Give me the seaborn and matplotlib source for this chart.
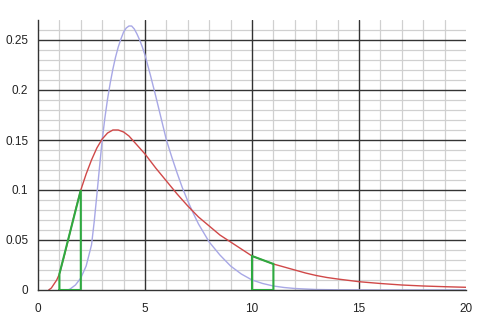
import matplotlib
matplotlib.use("Agg")
import matplotlib.pyplot as plt
import seaborn as sns
import pandas as pd

# Red curve
red_x = [0.5, 0.625, 0.75, 0.875, 1.0, 1.25, 1.5, 1.75, 2.0, 2.25, 2.5, 2.75, 3.0, 3.25, 3.5,
         3.75, 4.0, 4.25, 4.5, 4.75, 5.0, 5.5, 6.0, 6.5, 7.0, 7.5, 8.0, 8.5, 9.0, 9.5, 10.0,
         10.5, 11.0, 11.5, 12.0, 12.5, 13.0, 13.5, 14.0, 15.0, 16.0, 17.0, 18.0, 19.0, 20.0]
red_y = [0.0, 0.002, 0.006, 0.010, 0.016, 0.036, 0.058, 0.080, 0.100, 0.116, 0.130, 0.142,
         0.151, 0.157, 0.160, 0.160, 0.158, 0.154, 0.148, 0.142, 0.136, 0.122, 0.109, 0.096,
         0.084, 0.073, 0.064, 0.055, 0.048, 0.041, 0.034, 0.030, 0.026, 0.023, 0.020, 0.017,
         0.0145, 0.0125, 0.011, 0.0083, 0.0065, 0.005, 0.004, 0.0033, 0.0027]

# Blue curve
blue_x = [1.4, 1.5, 1.75, 2.0, 2.25, 2.5, 2.625, 2.75, 2.875, 3.0, 3.125, 3.25, 3.375, 3.5,
          3.625, 3.75, 3.875, 4.0, 4.125, 4.25, 4.375, 4.5, 4.625, 4.75, 4.875, 5.0, 5.25,
          5.5, 5.75, 6.0, 6.25, 6.5, 6.75, 7.0, 7.25, 7.5, 7.75, 8.0, 8.5, 9.0, 9.5, 10.0,
          10.5, 11.0, 11.5, 12.0, 13.0, 14.0, 16.0, 20.0]
blue_y = [0.0, 0.001, 0.005, 0.012, 0.024, 0.045, 0.068, 0.095, 0.123, 0.150, 0.172, 0.191,
          0.207, 0.221, 0.233, 0.243, 0.251, 0.258, 0.262, 0.264, 0.264, 0.261, 0.256, 0.250,
          0.243, 0.235, 0.215, 0.194, 0.172, 0.150, 0.133, 0.117, 0.102, 0.089, 0.077, 0.066,
          0.057, 0.048, 0.035, 0.024, 0.016, 0.010, 0.0065, 0.004, 0.0025, 0.0015, 0.0005,
          0.0002, 0.0, 0.0]

# Green shaded intervals (outlines)
green1_x = [1, 1, 2, 2, 1]
green1_y = [0, 0.016, 0.100, 0, 0]
green2_x = [10, 10, 11, 11, 10]
green2_y = [0, 0.034, 0.026, 0, 0]

x_ticks = [0, 5, 10, 15, 20]
y_ticks = [0, 0.05, 0.1, 0.15, 0.2, 0.25]
y_tick_labels = ["0", "0.05", "0.1", "0.15", "0.2", "0.25"]
x_minor = [v for v in range(1, 21) if v % 5 != 0]
y_minor = [i / 100 for i in range(1, 27) if i % 5 != 0]

sns.set_style("white")
plt.rcParams['font.family'] = ['Liberation Sans', 'DejaVu Sans']

fig = plt.figure(figsize=(4.8, 3.21), dpi=100)
ax = fig.add_axes([38 / 480, 1 - 290 / 321, 428 / 480, 270 / 321])

ax.set_xlim(0, 20)
ax.set_ylim(0, 0.27)
ax.set_xticks(x_ticks)
ax.set_xticklabels([str(t) for t in x_ticks])
ax.set_yticks(y_ticks)
ax.set_yticklabels(y_tick_labels)
ax.grid(False)

# grid: minor lines first (lowest), then major lines above them
for v in x_minor:
    ax.axvline(v, color='#d0d0d0', linewidth=0.9, zorder=0.3)
for v in y_minor:
    ax.axhline(v, color='#d0d0d0', linewidth=0.9, zorder=0.3)
for v in x_ticks[1:-1]:
    ax.axvline(v, color='#333333', linewidth=1.0, zorder=0.6)
for v in y_ticks[1:]:
    ax.axhline(v, color='#333333', linewidth=1.0, zorder=0.6)

for s in ['top', 'right']:
    ax.spines[s].set_visible(False)
for s in ['left', 'bottom']:
    ax.spines[s].set_color('#333333')
    ax.spines[s].set_linewidth(1.0)

ax.tick_params(which='major', length=3, width=1, color='#333333', labelsize=8.5,
               labelcolor='#222222')
ax.tick_params(axis='x', pad=6)
ax.tick_params(axis='y', pad=4)

red_df = pd.DataFrame({'x': red_x, 'y': red_y})
blue_df = pd.DataFrame({'x': blue_x, 'y': blue_y})
sns.lineplot(data=blue_df, x='x', y='y', ax=ax, color='#a8a8e6', linewidth=1.0,
             sort=False, estimator=None, zorder=2)
sns.lineplot(data=red_df, x='x', y='y', ax=ax, color='#d04848', linewidth=1.0,
             sort=False, estimator=None, zorder=2.1)
ax.plot(green1_x, green1_y, color='#2eaa40', linewidth=1.5, solid_joinstyle='miter', zorder=3)
ax.plot(green2_x, green2_y, color='#2eaa40', linewidth=1.5, solid_joinstyle='miter', zorder=3)

ax.set_xlabel('')
ax.set_ylabel('')

fig.savefig('out.png', dpi=100)
